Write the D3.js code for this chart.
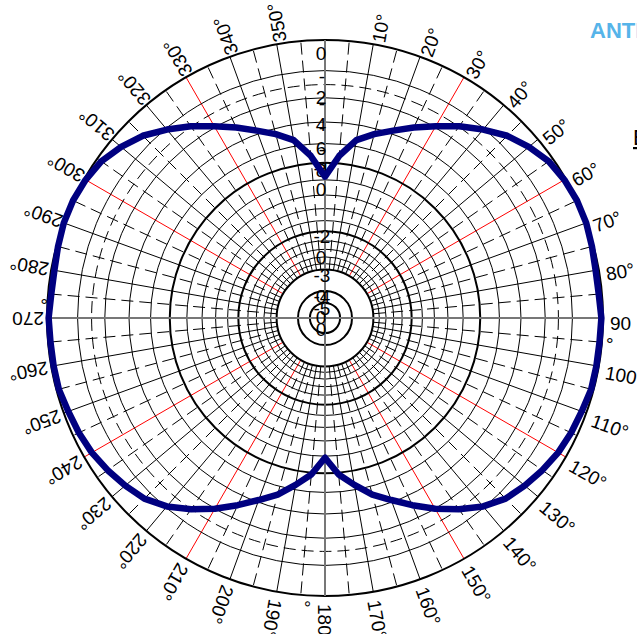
<!DOCTYPE html>
<html>
<head>
<meta charset="utf-8">
<script src="https://cdn.jsdelivr.net/npm/d3@7"></script>
<style>
  body { margin: 0; background: #fff; }
  svg { display: block; font-family: "Liberation Sans", Arial, sans-serif; }
</style>
</head>
<body>
<div id="container"></div>
<script>
let width = 637
let height = 634

// centre and outer radius of the polar grid
const cx = 325, cy = 318, R = 278

// grid rings in dB (ARRL log scale, 0.89 per 2 dB)
const thinRings = [-2, -4, -6, -8, -12, -14, -16, -18, -22, -24, -26, -28]
const dashRings = [-3]
const thickRings = [0, -10, -20, -30, -40, -50]

// ring labels, each split on two lines like the original
const ringLabelDb = [0, -2, -4, -6, -8, -10, -20, -30, -40, -50]
const ringLabelTop = ["", "-", "-", "-", "-", "-1", "-2", "-3", "-4", "-5"]
const ringLabelBottom = ["0", "2", "4", "6", "8", "0", "0", "0", "0", "0"]

// angle labels
const angleLabels = [10, 20, 30, 40, 50, 60, 70, 80, 90, 100, 110, 120, 130, 140, 150, 160, 170, 180,
  190, 200, 210, 220, 230, 240, 250, 260, 270, 280, 290, 300, 310, 320, 330, 340, 350]
const redSpokes = [30, 60, 120, 150, 210, 240, 300, 330]

// measured pattern, gain in dB every 5 degrees (0..355)
const patternDeg = d3.range(0, 360, 5)
const patternDb = [
  -11.6, -9.2, -7.4, -6.5, -5.7, -4.8, -3.9, -2.95, -2.1, -1.3, -0.75, -0.3,
  -0.1, 0, 0, -0.1, -0.2, -0.2, -0.1, -0.15, -0.15, -0.15, -0.3, -0.4,
  -0.55, -0.8, -1.1, -1.45, -2.1, -3.0, -4.0, -5.1, -6.2, -7.2, -8.5, -9.8,
  -11.8, -9.8, -8.5, -7.2, -6.2, -5.1, -4.0, -3.0, -2.1, -1.45, -1.1, -0.8,
  -0.55, -0.4, -0.3, -0.15, -0.15, -0.15, -0.1, -0.2, -0.2, -0.1, 0, 0,
  -0.1, -0.3, -0.75, -1.3, -2.1, -2.95, -3.9, -4.8, -5.7, -6.5, -7.4, -9.2
]

// log radius: r = R * 0.89^(-dB/2)
let logR = d3.scaleLinear()
  .domain([0, -2])
  .range([Math.log(R), Math.log(R * 0.89)])
let rad = db => Math.exp(logR(db))
let ang = d3.scaleLinear().domain([0, 360]).range([0, 2 * Math.PI])

let svg = d3.select("#container")
  .append("svg")
  .attr("width", width)
  .attr("height", height)

let g = svg.append("g").attr("transform", `translate(${cx},${cy})`)

// spokes every 5 degrees, from -30 dB ring to outer ring
const spokes = d3.range(0, 360, 5).filter(a => a % 90 !== 0)
const rIn = rad(-30)
g.append("g").selectAll("line")
  .data(spokes)
  .join("line")
  .attr("x1", a => rIn * Math.sin(ang(a)))
  .attr("y1", a => -rIn * Math.cos(ang(a)))
  .attr("x2", a => R * Math.sin(ang(a)))
  .attr("y2", a => -R * Math.cos(ang(a)))
  .attr("stroke", a => redSpokes.includes(a) ? "#ff0000" : "#000")
  .attr("stroke-width", 1)
  .attr("stroke-dasharray", a => a % 10 === 5 ? "12,6" : null)

// rings
g.append("g").selectAll("circle")
  .data(thinRings)
  .join("circle")
  .attr("r", d => rad(d))
  .attr("fill", "none")
  .attr("stroke", "#000")
  .attr("stroke-width", 1)

g.append("g").selectAll("circle")
  .data(dashRings)
  .join("circle")
  .attr("r", d => rad(d))
  .attr("fill", "none")
  .attr("stroke", "#000")
  .attr("stroke-width", 1)
  .attr("stroke-dasharray", "12,6")

g.append("g").selectAll("circle")
  .data(thickRings)
  .join("circle")
  .attr("r", d => rad(d))
  .attr("fill", "none")
  .attr("stroke", "#000")
  .attr("stroke-width", 2)

// main axes (grey)
g.append("g").selectAll("line")
  .data([0, 90])
  .join("line")
  .attr("x1", a => -R * Math.sin(ang(a)))
  .attr("y1", a => R * Math.cos(ang(a)))
  .attr("x2", a => R * Math.sin(ang(a)))
  .attr("y2", a => -R * Math.cos(ang(a)))
  .attr("stroke", "#777")
  .attr("stroke-width", 2)

// ring labels along the 0 degree axis
let rl = g.append("g")
  .attr("font-size", 19)
  .attr("fill", "#000")
  .attr("text-anchor", "middle")
rl.selectAll("text.top")
  .data(ringLabelDb)
  .join("text")
  .attr("class", "top")
  .attr("x", -3)
  .attr("y", d => -rad(d) + 12)
  .text((d, i) => ringLabelTop[i])
rl.selectAll("text.bot")
  .data(ringLabelDb)
  .join("text")
  .attr("class", "bot")
  .attr("x", -4)
  .attr("y", (d, i) => -rad(d) + (i === 0 ? 20 : 33))
  .text((d, i) => ringLabelBottom[i])

// pattern
const pattern = patternDeg.map((d, i) => ({ deg: d, db: patternDb[i] }))
let line = d3.lineRadial()
  .angle(d => ang(d.deg))
  .radius(d => rad(d.db))
  .curve(d3.curveLinearClosed)

g.append("path")
  .datum(pattern)
  .attr("fill", "none")
  .attr("stroke", "#000080")
  .attr("stroke-width", 6.5)
  .attr("stroke-linejoin", "round")
  .attr("d", line)

// angle labels round the outside (sit a little low/right of the grid centre)
let al = g.append("g")
  .attr("transform", "translate(2,3)")
  .attr("font-size", 19)
  .attr("fill", "#000")
al.selectAll("g")
  .data(angleLabels)
  .join("g")
  .attr("transform", a => `rotate(${a - 90})`)
  .each(function (a) {
    let t = d3.select(this)
    if (a % 90 === 0) {
      t.append("text").attr("x", R + 5).attr("y", 9).text(a)
      t.append("text").attr("x", R + 1).attr("y", 30).text("°")
    } else {
      t.append("text").attr("x", R + 5).attr("y", 9).text(a + "°")
    }
  })

// clipped title and legend text at the right edge
svg.append("text")
  .attr("x", 590)
  .attr("y", 38)
  .attr("font-size", 22)
  .attr("font-weight", "bold")
  .attr("fill", "#56b4e9")
  .text("ANTENNA PATTERN")

svg.append("text")
  .attr("x", 633)
  .attr("y", 145)
  .attr("font-size", 22)
  .attr("fill", "#000")
  .attr("text-decoration", "underline")
  .text("E-plane")
</script>
</body>
</html>
